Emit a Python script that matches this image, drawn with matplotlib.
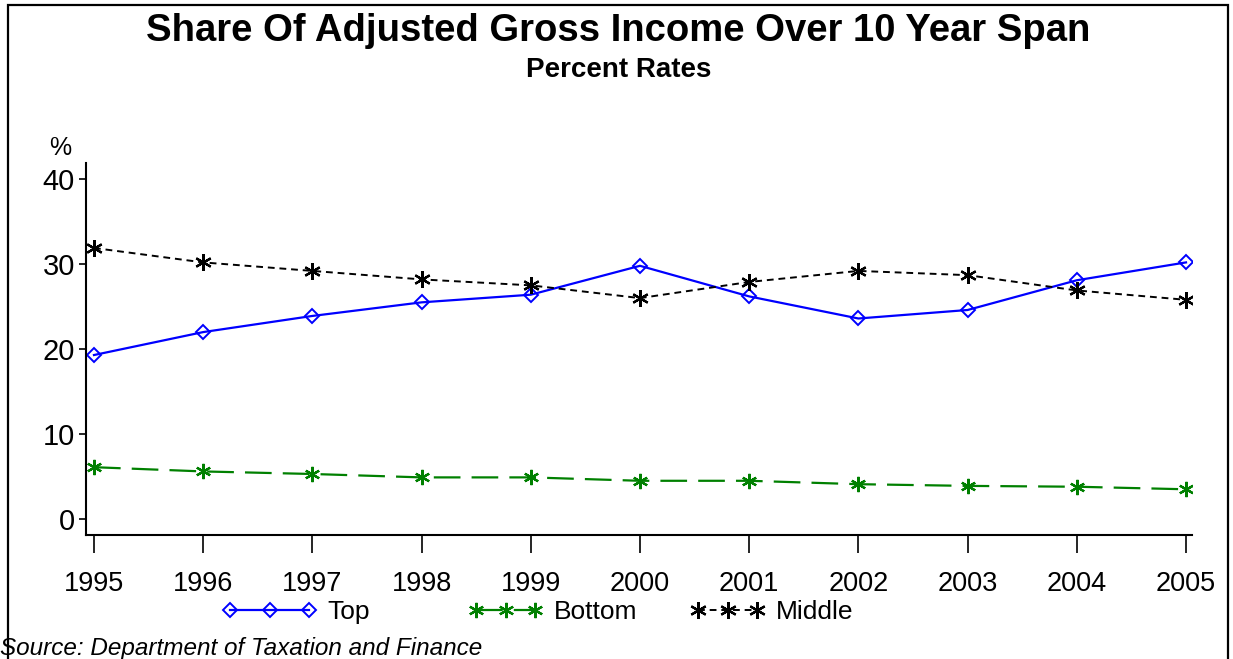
import matplotlib
matplotlib.use("Agg")
import matplotlib.pyplot as plt
from matplotlib.patches import Rectangle

plt.rcParams['font.family'] = ['Liberation Sans', 'DejaVu Sans']

years = [1995, 1996, 1997, 1998, 1999, 2000, 2001, 2002, 2003, 2004, 2005]
top = [19.3, 22.0, 23.9, 25.5, 26.4, 29.8, 26.2, 23.6, 24.6, 28.1, 30.2]
bottom = [6.1, 5.6, 5.3, 4.9, 4.9, 4.5, 4.5, 4.1, 3.9, 3.8, 3.5]
middle = [31.9, 30.2, 29.2, 28.2, 27.5, 26.0, 27.9, 29.2, 28.7, 26.9, 25.8]
y_ticks = [0, 10, 20, 30, 40]

W, H = 1233, 659
fig = plt.figure(figsize=(W / 100, H / 100), dpi=100)
fig.patch.set_facecolor('white')

# outer frame
fig.patches.append(Rectangle((8 / W, -0.05), 1220 / W, 1.05 - 5 / H,
                             transform=fig.transFigure, fill=False,
                             edgecolor='black', linewidth=1.6, zorder=0))

ax = fig.add_axes([86 / W, 1 - 535 / H, (1192 - 86) / W, (535 - 163) / H])

asterisk = (6, 2, 0)
h_top, = ax.plot(years, top, color='#0000ff', lw=1.6, marker='D', markersize=7.5,
                 markerfacecolor='none', markeredgecolor='#0000ff',
                 markeredgewidth=1.4, label='Top')
h_bot, = ax.plot(years, bottom, color='#008000', lw=1.6, dashes=(12, 5),
                 marker=asterisk, markersize=11, markeredgewidth=1.6,
                 markeredgecolor='#008000', label='Bottom')
h_mid, = ax.plot(years, middle, color='black', lw=1.4, dashes=(3.5, 2.5),
                 marker=asterisk, markersize=12, markeredgewidth=1.6,
                 markeredgecolor='black', label='Middle')

ax.set_xlim(1994.927, 2005.055)
ax.set_ylim(-1.88, 41.9)
ax.set_xticks(years)
ax.set_yticks(y_ticks)
ax.tick_params(axis='x', length=13, width=1.2, pad=13, labelsize=19.5)
ax.tick_params(axis='y', length=5, width=1.2, pad=3, labelsize=21)
for side in ('top', 'right'):
    ax.spines[side].set_visible(False)
for side in ('left', 'bottom'):
    ax.spines[side].set_linewidth(1.5)

fig.text(60 / W, 1 - 148 / H, '%', fontsize=18, ha='center', va='center')

fig.text(618 / W, 1 - 31 / H, 'Share Of Adjusted Gross Income Over 10 Year Span',
         fontsize=27.5, fontweight='bold', ha='center', va='center')
fig.text(619 / W, 1 - 70 / H, 'Percent Rates', fontsize=20, fontweight='bold',
         ha='center', va='center')

# legend entries placed one by one along the bottom
for handle, x0, hl in ((h_top, 222, 3.6), (h_bot, 468, 2.85), (h_mid, 690, 2.85)):
    fig.legend(handles=[handle], loc='center left',
               bbox_to_anchor=(x0 / W, 1 - 612 / H), frameon=False,
               fontsize=19, numpoints=3, handlelength=hl, handletextpad=0.4,
               borderpad=0, borderaxespad=0)

fig.text(0 / W, 1 - 648 / H, 'Source: Department of Taxation and Finance',
         fontsize=17.5, fontstyle='italic', ha='left', va='center')

fig.savefig('out.png', dpi=100)
